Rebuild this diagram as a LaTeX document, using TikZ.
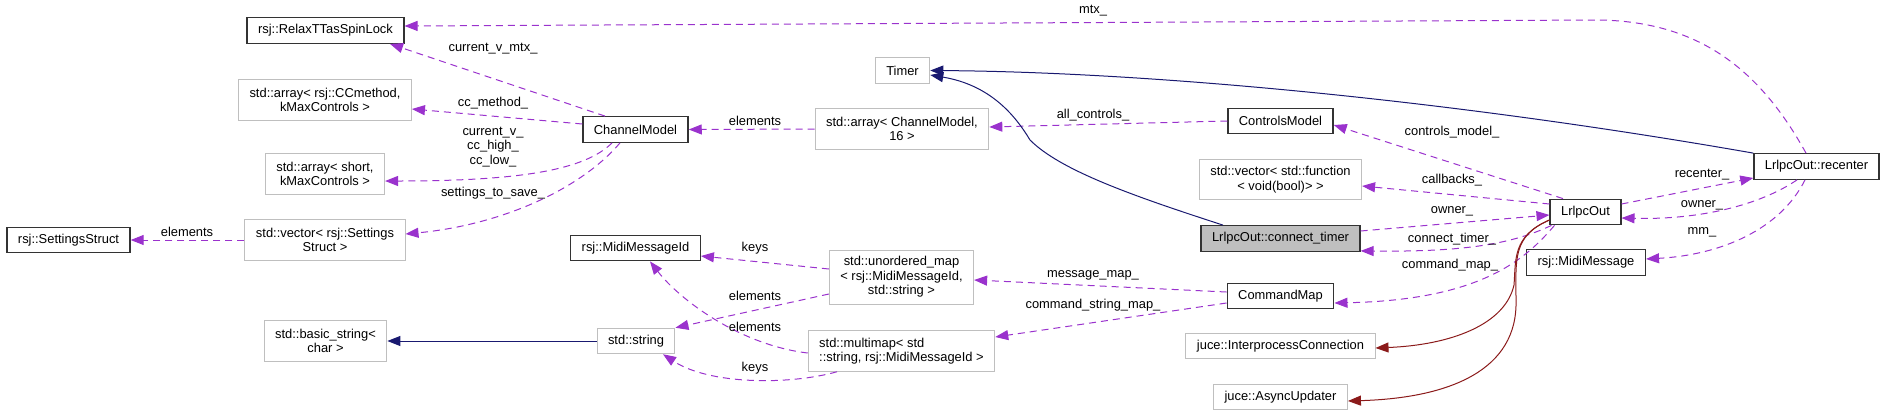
\documentclass[tikz,border=0pt]{standalone}
\usepackage{fontspec}
\setmainfont{Liberation Sans}
\usetikzlibrary{arrows.meta}

\definecolor{usecol}{HTML}{9A32CD}
\definecolor{pubcol}{HTML}{191970}
\definecolor{privcol}{HTML}{8B1A1A}
\definecolor{extcol}{HTML}{BFBFBF}

\begin{document}
\begin{tikzpicture}[x=1pt, y=-1pt,
      every node/.style={font=\fontsize{12.9}{14.5}\selectfont},
      box/.style={draw=black!80, line width=1.3pt, fill=white, inner xsep=11pt,
                  inner ysep=2pt, minimum height=25.5pt, align=center},
      ext/.style={box, draw=extcol, line width=1pt},
      focus/.style={box, fill=extcol},
      twoline/.style={minimum height=40.5pt},
      threeline/.style={minimum height=54pt},
      lbl/.style={inner sep=0pt, align=center},
      usearr/.style={draw=usecol, line width=1pt, dash pattern=on 7pt off 5pt,
                     -{Triangle[length=13pt, width=10pt, fill=usecol]}},
      pubarr/.style={draw=pubcol, line width=1pt,
                     -{Triangle[length=13pt, width=10pt, fill=pubcol]}},
      privarr/.style={draw=privcol, line width=1pt,
                      -{Triangle[length=13pt, width=10pt, fill=privcol]}}
    ]
      \useasboundingbox (0,0) rectangle (1885,416);

      % leftmost column
      \node[box] (settings) at (68.5,240) {rsj::SettingsStruct};
      % std containers
      \node[box] (spinlock) at (325.5,30.5) {rsj::RelaxTTasSpinLock};
      \node[ext, twoline] (ccarr) at (325,100) {std::array< rsj::CCmethod,\\kMaxControls >};
      \node[ext, twoline] (shortarr) at (325,174) {std::array< short,\\kMaxControls >};
      \node[ext, twoline] (setvec) at (325,240) {std::vector< rsj::Settings\\Struct >};
      \node[ext, twoline] (basicstr) at (325.5,341) {std::basic\_string<\\char >};
      % models and ids
      \node[box] (chmodel) at (635.5,129.5) {ChannelModel};
      \node[box] (midiid) at (635.5,248) {rsj::MidiMessageId};
      \node[ext] (stdstr) at (636,341) {std::string};
      % timer and maps
      \node[ext] (timer) at (902.5,70.5) {Timer};
      \node[ext, twoline] (charr) at (902,129) {std::array< ChannelModel,\\16 >};
      \node[ext, threeline] (umap) at (901.5,277) {std::unordered\_map\\< rsj::MidiMessageId,\\std::string >};
      \node[ext, twoline, align=left] (mmap) at (901.5,351) {std::multimap< std\\::string, rsj::MidiMessageId >};
      % members of LrlpcOut
      \node[box] (ctrlmodel) at (1280.5,121) {ControlsModel};
      \node[ext, twoline] (cbvec) at (1280.5,179.5) {std::vector< std::function\\< void(bool)> >};
      \node[focus] (conntimer) at (1280.5,238.5) {LrlpcOut::connect\_timer};
      \node[box] (cmdmap) at (1280.5,296) {CommandMap};
      \node[ext] (ipc) at (1280.5,346) {juce::InterprocessConnection};
      \node[ext] (async) at (1280.5,397) {juce::AsyncUpdater};
      % LrlpcOut
      \node[box] (lrlpc) at (1585.5,212) {LrlpcOut};
      \node[box] (midimsg) at (1586,262.5) {rsj::MidiMessage};
      \node[box] (recenter) at (1816.5,166.5) {LrlpcOut::recenter};

      % usage
      \draw[usearr] ([xshift=-10.5pt]recenter.north) .. controls (1760,70) and (1700,22) .. (1600,20)
        -- ([yshift=4.5pt]spinlock.east) node[lbl] at (1093,11) {mtx\_};
      \draw[usearr] ([xshift=-30.5pt]chmodel.north) -- ([xshift=64.5pt]spinlock.south)
        node[lbl] at (493,49) {current\_v\_mtx\_};
      \draw[usearr] ([yshift=5.5pt]chmodel.west) -- ([yshift=-9pt]ccarr.east)
        node[lbl] at (493,103) {cc\_method\_};
      \draw[usearr] ([xshift=-23.5pt]chmodel.south) .. controls (585,170) and (520,181) .. ([yshift=-7pt]shortarr.east)
        node[lbl] at (493,147) {current\_v\_\\cc\_high\_\\cc\_low\_};
      \draw[usearr] ([xshift=-15.5pt]chmodel.south) .. controls (580,190) and (500,225) .. ([yshift=6pt]setvec.east)
        node[lbl] at (493,193) {settings\_to\_save\_};
      \draw[usearr] (setvec.west) -- (settings.east) node[lbl] at (187,232) {elements};
      \draw[usearr] (charr.west) -- (chmodel.east) node[lbl] at (755,121) {elements};
      \draw[usearr] (ctrlmodel.west) -- ([yshift=2pt]charr.east) node[lbl] at (1093,115) {all\_controls\_};
      \draw[usearr] ([yshift=8pt]umap.west) -- ([yshift=-8pt]midiid.east) node[lbl] at (755,248) {keys};
      \draw[usearr] ([yshift=-17pt]umap.west) -- (stdstr.north east) node[lbl] at (755,296) {elements};
      \draw[usearr] ([yshift=-2pt]mmap.west) .. controls (740,345) and (680,300) .. ([xshift=14.5pt]midiid.south)
        node[lbl] at (755,327) {elements};
      \draw[usearr] ([xshift=-64.5pt]mmap.south) .. controls (790,385) and (710,385) .. ([xshift=27pt]stdstr.south)
        node[lbl] at (755,368) {keys};
      \draw[usearr] ([yshift=4pt]cmdmap.west) -- ([yshift=-3pt]umap.east)
        node[lbl] at (1093,275) {message\_map\_};
      \draw[usearr] ([yshift=-7pt]cmdmap.west) -- ([yshift=14pt]mmap.east)
        node[lbl] at (1093,305) {command\_string\_map\_};
      \draw[usearr] ([xshift=-22.5pt]lrlpc.north) -- ([yshift=-4pt]ctrlmodel.east)
        node[lbl] at (1452,132) {controls\_model\_};
      \draw[usearr] ([yshift=8pt]lrlpc.west) -- ([yshift=-6.5pt]cbvec.east)
        node[lbl] at (1452,180) {callbacks\_};
      \draw[usearr] ([yshift=7.5pt]conntimer.east) -- ([yshift=-3pt]lrlpc.west)
        node[lbl] at (1452,211) {owner\_};
      \draw[usearr] ([xshift=2pt]lrlpc.south west) .. controls (1510,245) and (1460,252) .. ([yshift=1pt]conntimer.south east)
        node[lbl] at (1452,239) {connect\_timer\_};
      \draw[usearr] ([xshift=5pt]lrlpc.south west) .. controls (1525,260) and (1480,300) .. ([yshift=-7pt]cmdmap.east)
        node[lbl] at (1450,265) {command\_map\_};
      \draw[usearr] ([yshift=8pt]lrlpc.east) -- ([yshift=-11.5pt]recenter.west)
        node[lbl] at (1702,175) {recenter\_};
      \draw[usearr] ([xshift=-19.5pt]recenter.south) .. controls (1760,205) and (1700,220) .. ([yshift=-6pt]lrlpc.east)
        node[lbl] at (1702,205) {owner\_};
      \draw[usearr] ([xshift=-11.5pt]recenter.south) .. controls (1780,230) and (1720,255) .. ([yshift=3.5pt]midimsg.east)
        node[lbl] at (1702,232) {mm\_};

      % public inheritance
      \draw[pubarr] (stdstr.west) -- (basicstr.east);
      \draw[pubarr] (recenter.north west) .. controls (1450,100) and (1150,72) .. (timer.east);
      \draw[pubarr] ([xshift=-57.5pt]conntimer.north) .. controls (1130,195) and (1060,170) .. (1030,140)
        .. controls (1015,115) and (990,85) .. ([yshift=-4.5pt]timer.east);

      % private inheritance
      \draw[privarr] ([yshift=-8pt]lrlpc.west) .. controls (1512,236) and (1516,260) .. (1514,285)
        .. controls (1505,325) and (1450,345) .. ([yshift=-2pt]ipc.east);
      \draw[privarr] ([yshift=-8pt]lrlpc.west) .. controls (1512,236) and (1516,260) .. (1516,300)
        .. controls (1518,370) and (1450,398) .. ([yshift=-4pt]async.east);
    \end{tikzpicture}
\end{document}
